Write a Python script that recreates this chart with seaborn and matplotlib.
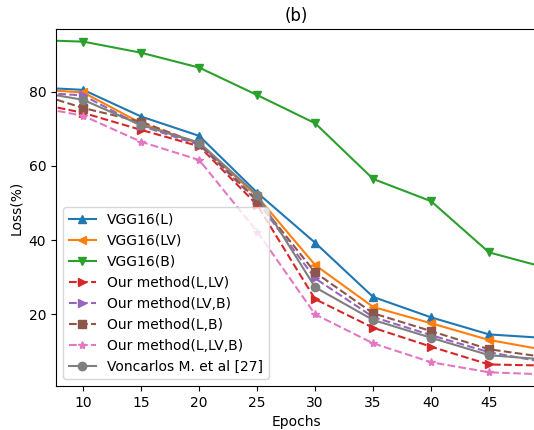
import matplotlib
matplotlib.use('Agg')
import matplotlib.pyplot as plt
import seaborn as sns

# Loss per epoch for each model
epochs = [5, 10, 15, 20, 25, 30, 35, 40, 45, 50]
vgg16_l = [81.3, 80.5, 73.3, 68.1, 52.8, 39.3, 24.7, 19.2, 14.6, 13.6]
vgg16_lv = [80.8, 79.8, 71.5, 66.0, 51.8, 33.3, 22.0, 17.6, 13.1, 10.3]
vgg16_b = [94.0, 93.5, 90.5, 86.5, 79.1, 71.5, 56.5, 50.5, 36.7, 32.5]
ours_l_lv = [77.5, 74.3, 69.7, 65.3, 49.5, 24.1, 16.4, 11.3, 6.5, 6.2]
ours_lv_b = [80.0, 79.0, 70.8, 65.7, 50.5, 29.7, 19.3, 14.4, 9.8, 7.0]
ours_l_b = [80.5, 75.6, 71.9, 66.0, 50.8, 31.3, 20.3, 15.5, 10.6, 8.4]
ours_l_lv_b = [76.5, 73.5, 66.5, 61.6, 42.3, 20.0, 12.2, 7.1, 4.4, 3.8]
voncarlos = [80.5, 77.8, 71.0, 66.3, 52.2, 27.3, 18.5, 13.7, 9.0, 7.8]

series = [
    ('VGG16(L)', vgg16_l, '^', '-', '#1f77b4'),
    ('VGG16(LV)', vgg16_lv, '<', '-', '#ff7f0e'),
    ('VGG16(B)', vgg16_b, 'v', '-', '#2ca02c'),
    ('Our method(L,LV)', ours_l_lv, '>', '--', '#d62728'),
    ('Our method(LV,B)', ours_lv_b, '>', '--', '#9467bd'),
    ('Our method(L,B)', ours_l_b, 's', '--', '#8c564b'),
    ('Our method(L,LV,B)', ours_l_lv_b, '*', '--', '#e377c2'),
    ('Voncarlos M. et al [27]', voncarlos, 'o', '-', '#7f7f7f'),
]

fig = plt.figure(figsize=(5.34, 4.30), dpi=100)
ax = fig.add_axes([56 / 534, 1 - 386 / 430, 480 / 534, 357 / 430])

for name, vals, mk, ls, col in series:
    sns.lineplot(x=epochs, y=vals, marker=mk, linestyle=ls, color=col,
                 markeredgecolor=col, markeredgewidth=1, markersize=6,
                 linewidth=1.5, label=name, ax=ax)

ax.set_xlim(7.65, 49.05)
ax.set_ylim(0.7, 96.9)
ax.set_xticks([10, 15, 20, 25, 30, 35, 40, 45])
ax.set_yticks([20, 40, 60, 80])
ax.set_xlabel('Epochs')
ax.set_ylabel('Loss(%)')
ax.set_title('(b)')
ax.legend(loc='lower left')

fig.savefig('out.png', dpi=100)
